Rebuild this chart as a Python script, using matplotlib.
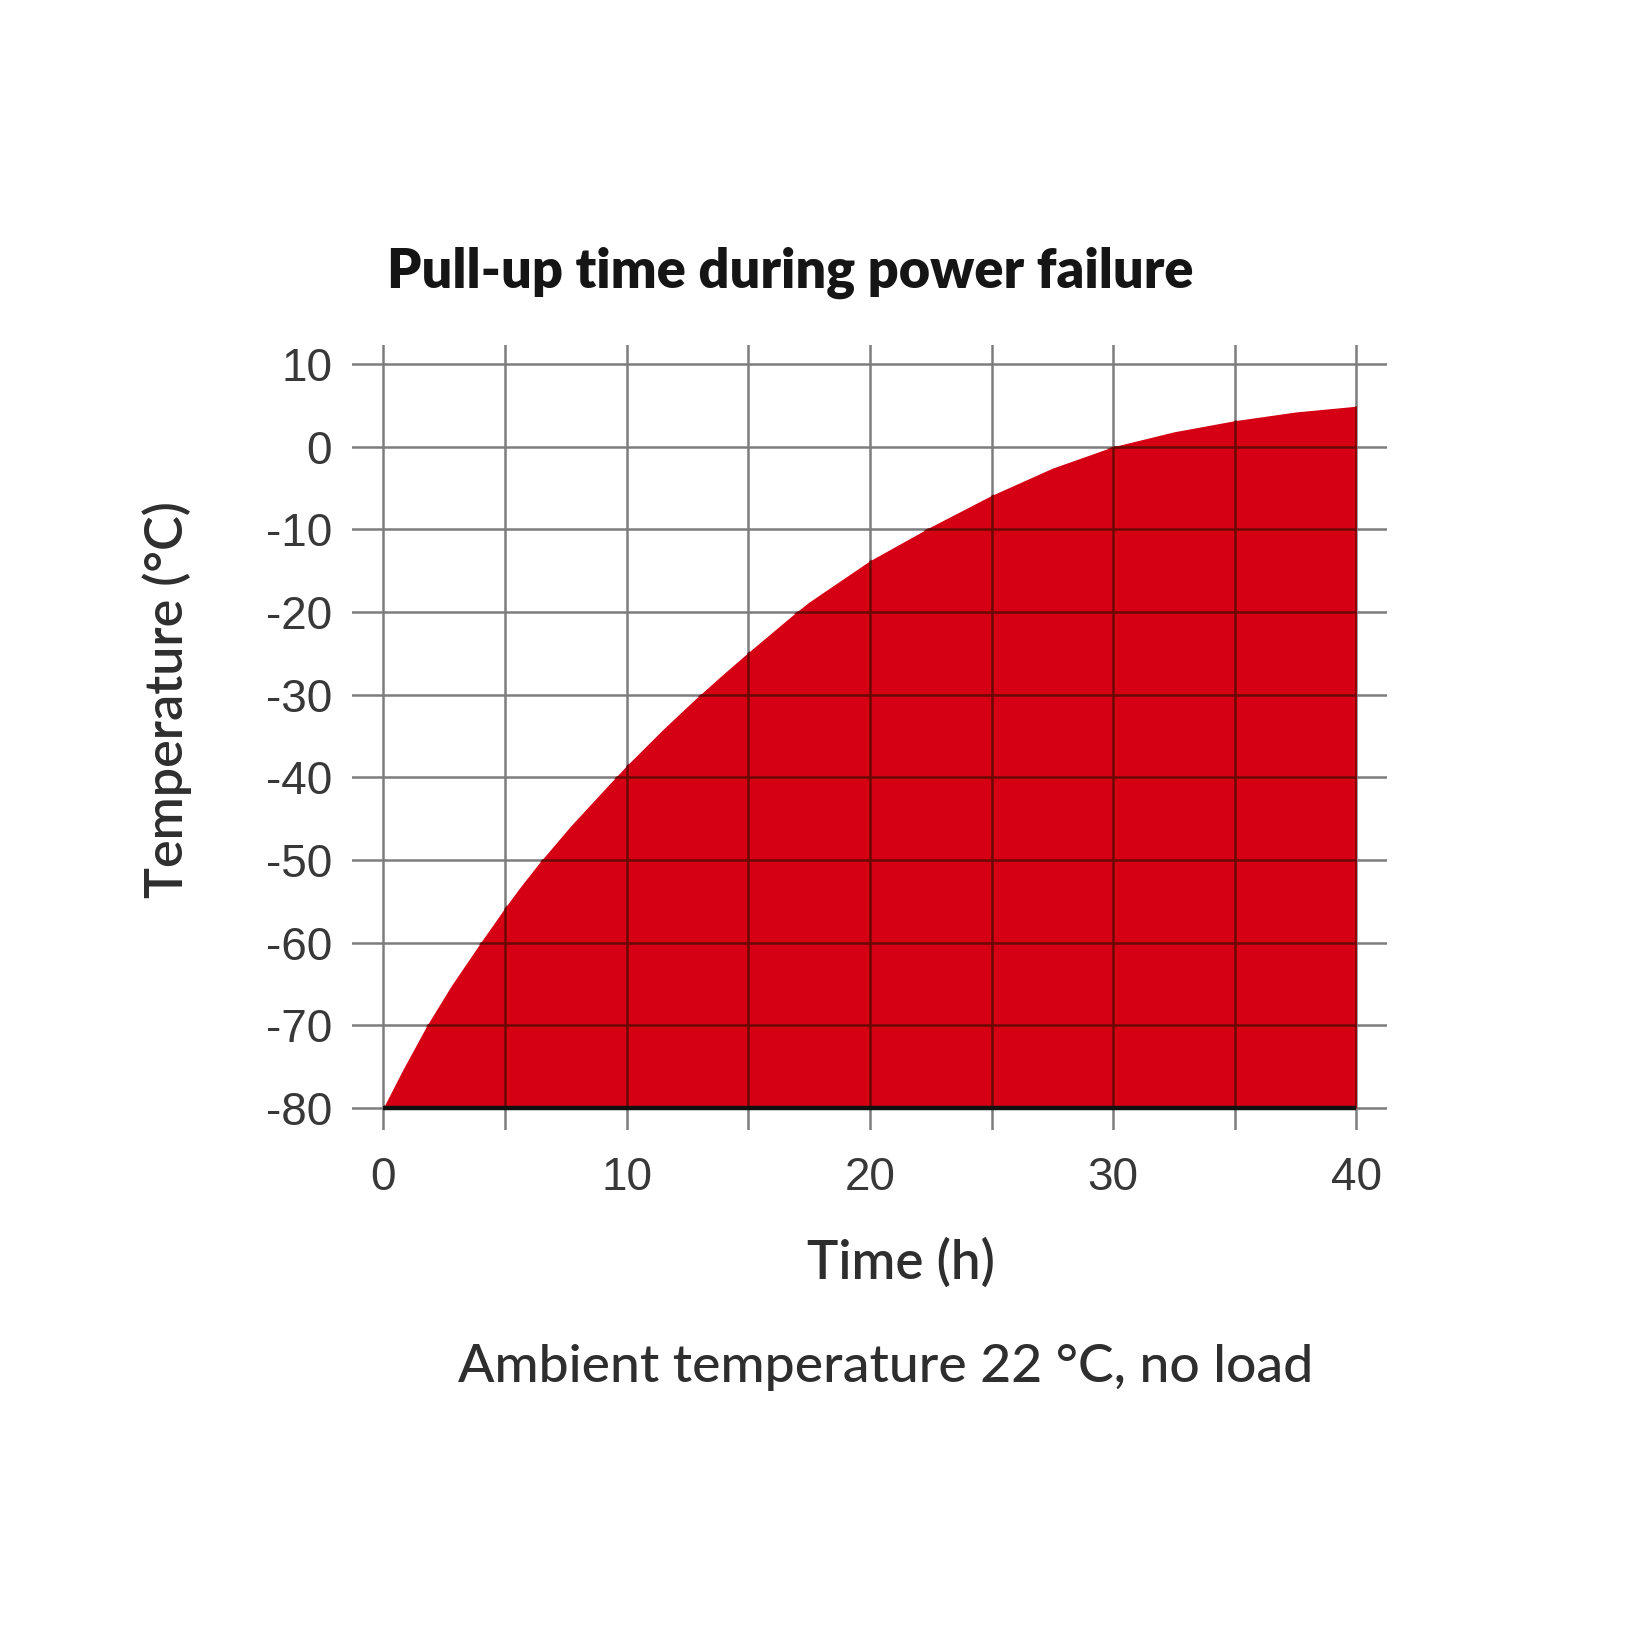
import numpy as np
import matplotlib
matplotlib.use("Agg")
import matplotlib.pyplot as plt

# data
hours = [0, 0.8, 1.8, 2.8, 4, 5, 5.6, 6.4, 7.7, 9.3, 10, 11.5, 12.8, 13.9, 15, 16.9, 17.5,
         20, 22.5, 25, 27.5, 30, 32.5, 35, 37.5, 40]
temps = [-80, -75.4, -70, -65.2, -60, -55.8, -53.4, -50.4, -45.9, -40.8, -38.6, -34.2, -30.6,
         -27.7, -24.9, -20.2, -18.8, -13.8, -9.7, -5.9, -2.6, 0, 1.8, 3.15, 4.2, 4.9]
x_ticks = [0, 10, 20, 30, 40]
x_grid = [0, 5, 10, 15, 20, 25, 30, 35, 40]
y_ticks = [10, 0, -10, -20, -30, -40, -50, -60, -70, -80]

RED = "#d50014"
GRID = "#7d7d7d"
DARK = "#6a0806"

fig = plt.figure(figsize=(16.5, 16.5), dpi=100)
ax = fig.add_axes([0.2131, 0.3152, 0.6273, 0.4757])
ax.set_xlim(-1.3, 41.24)
ax.set_ylim(-82.66, 12.3)

# grid under the fill
for xv in x_grid:
    ax.axvline(xv, color=GRID, lw=1.8, zorder=0)
for yv in y_ticks:
    ax.axhline(yv, color=GRID, lw=1.8, zorder=0)

poly = ax.fill_between(hours, temps, -80, color=RED, lw=0, zorder=1)

# darker grid lines seen through the red area
clip = poly.get_paths()[0]
for xv in x_grid:
    ln = ax.axvline(xv, color=DARK, lw=1.8, zorder=2)
    ln.set_clip_path(clip, ax.transData)
for yv in y_ticks:
    ln = ax.axhline(yv, color=DARK, lw=1.8, zorder=2)
    ln.set_clip_path(clip, ax.transData)

ax.plot([0, 40], [-80, -80], color="#111111", lw=3.2, zorder=3, solid_capstyle="butt")

for s in ax.spines.values():
    s.set_visible(False)
ax.set_xticks(x_ticks)
ax.set_yticks(y_ticks)
ax.set_xticklabels([str(v) for v in x_ticks])
ax.set_yticklabels([str(v) for v in y_ticks])
ax.tick_params(axis="x", length=0, pad=19, labelsize=33, labelcolor="#383838")
ax.tick_params(axis="y", length=0, pad=14, labelsize=33, labelcolor="#383838")
for lab in ax.get_xticklabels() + ax.get_yticklabels():
    lab.set_fontfamily("Liberation Sans")

fig.text(0.479, 0.8345, "Pull-up time during power failure", ha="center", va="center",
         fontsize=39, fontweight="heavy", family="Lato", color="#151515")
fig.text(0.546, 0.235, "Time (h)", ha="center", va="center",
         fontsize=38, fontweight="semibold", family="Lato", color="#2e2e2e")
fig.text(0.101, 0.576, "Temperature (°C)", ha="center", va="center", rotation=90,
         fontsize=37.5, fontweight="semibold", family="Lato", color="#2e2e2e")
fig.text(0.537, 0.171, "Ambient temperature 22 °C, no load", ha="center", va="center",
         fontsize=38.5, fontweight="medium", family="Lato", color="#2e2e2e")

fig.savefig("out.png", dpi=100, facecolor="white")
